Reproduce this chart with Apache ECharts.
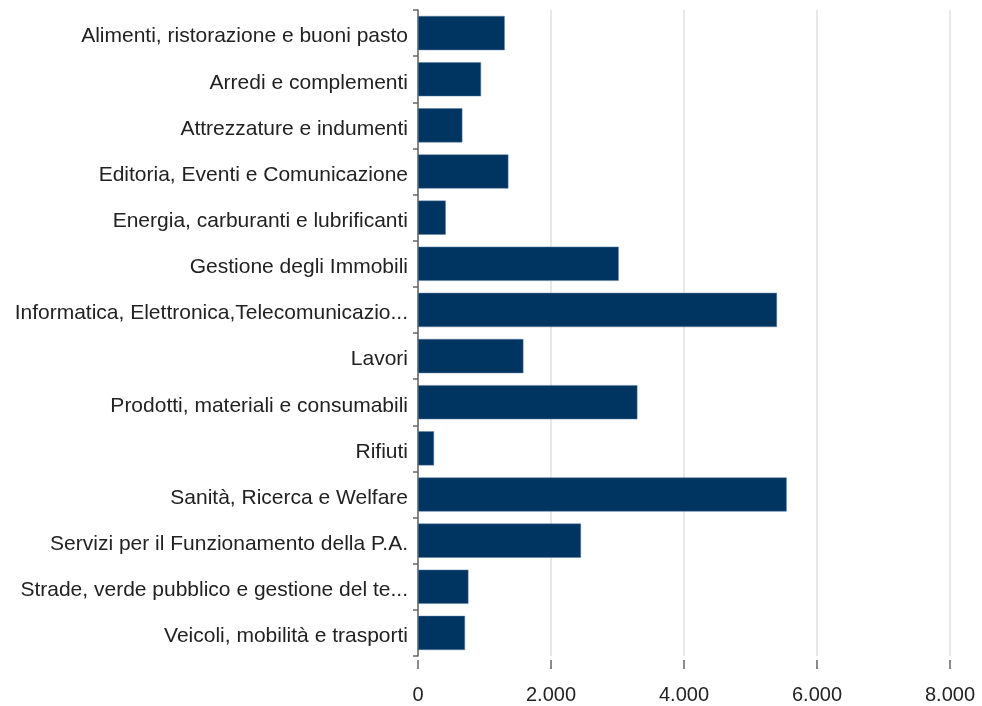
<!DOCTYPE html>
<html>
<head>
<meta charset="utf-8">
<script src="https://cdn.jsdelivr.net/npm/echarts@6/dist/echarts.min.js"></script>
<style>html,body{margin:0;padding:0;background:#fff}#c{width:982px;height:706px}</style>
</head>
<body>
<div id="c"></div>
<script>
const categories = [
  "Alimenti, ristorazione e buoni pasto",
  "Arredi e complementi",
  "Attrezzature e indumenti",
  "Editoria, Eventi e Comunicazione",
  "Energia, carburanti e lubrificanti",
  "Gestione degli Immobili",
  "Informatica, Elettronica,Telecomunicazio...",
  "Lavori",
  "Prodotti, materiali e consumabili",
  "Rifiuti",
  "Sanità, Ricerca e Welfare",
  "Servizi per il Funzionamento della P.A.",
  "Strade, verde pubblico e gestione del te...",
  "Veicoli, mobilità e trasporti"
];
const values = [1304, 948, 667, 1359, 417, 3018, 5398, 1585, 3299, 241, 5544, 2451, 758, 707];
const xTicks = [0, 2000, 4000, 6000, 8000];

const chart = echarts.init(document.getElementById('c'), null, {renderer: 'canvas'});
chart.setOption({
  animation: false,
  grid: {left: 418, right: 32, top: 10, bottom: 50, containLabel: false},
  xAxis: {
    type: 'value',
    min: xTicks[0],
    max: xTicks[xTicks.length - 1],
    interval: 2000,
    offset: 4,
    axisLine: {show: false},
    axisTick: {show: true, length: 9, lineStyle: {color: '#666', width: 1.5}},
    splitLine: {show: true, lineStyle: {color: '#e0e0e0', width: 1.5}},
    axisLabel: {
      margin: 25,
      fontFamily: 'Liberation Sans',
      fontSize: 20,
      color: '#222',
      formatter: v => v.toLocaleString('de-DE')
    }
  },
  yAxis: {
    type: 'category',
    data: categories,
    inverse: true,
    axisLine: {show: true, lineStyle: {color: '#666', width: 1.5}},
    axisTick: {show: true, length: 5, lineStyle: {color: '#666', width: 1.5}},
    axisLabel: {
      margin: 10,
      fontFamily: 'Liberation Sans',
      fontSize: 21,
      color: '#222',
      formatter: v => '{a|' + v + '}',
      rich: {
        a: {fontFamily: 'Liberation Sans', fontSize: 21, color: '#222', padding: [7, 0, 0, 0]}
      }
    }
  },
  series: [{
    type: 'bar',
    data: values,
    barCategoryGap: '26%',
    itemStyle: {color: '#003461', borderColor: '#5a7fa3', borderWidth: 0.5}
  }]
});
</script>
</body>
</html>
